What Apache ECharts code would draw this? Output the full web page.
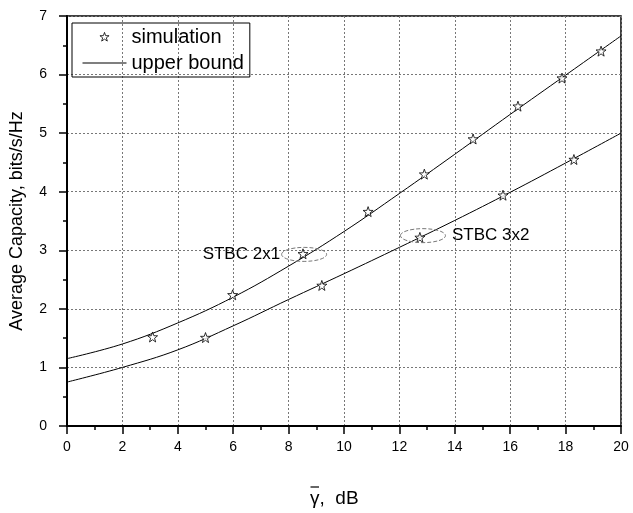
<!DOCTYPE html>
<html>
<head>
<meta charset="utf-8">
<script src="https://cdn.jsdelivr.net/npm/echarts@6/dist/echarts.min.js"></script>
<style>
html,body{margin:0;padding:0;background:#fff;}
#main{width:633px;height:513px;}
</style>
</head>
<body>
<div id="main"></div>
<script>
// simulated points, STBC 2x1
const sim21X = [3.09, 5.98, 8.52, 10.87, 12.9, 14.66, 16.28, 17.87, 19.28];
const sim21Y = [1.52, 2.24, 2.94, 3.66, 4.30, 4.90, 5.46, 5.94, 6.40];
// simulated points, STBC 3x2
const sim32X = [5.0, 9.2, 12.74, 15.74, 18.3];
const sim32Y = [1.51, 2.40, 3.22, 3.94, 4.55];
// upper bound curves
const boundX = [0, 2, 4, 6, 8, 10, 12, 14, 16, 18, 20];
const bound21 = [1.15, 1.40, 1.76, 2.20, 2.73, 3.32, 3.97, 4.64, 5.32, 5.99, 6.66];
const bound32 = [0.75, 1.0, 1.30, 1.71, 2.16, 2.6, 3.05, 3.51, 3.99, 4.49, 5.0];
const xTicks = [0, 2, 4, 6, 8, 10, 12, 14, 16, 18, 20];
const yTicks = [0, 1, 2, 3, 4, 5, 6, 7];

const font = 'Arial, "Liberation Sans", sans-serif';

// 5-point star outline as svg path commands
function starAt(cx, cy, r){
  let d = '';
  for (let i = 0; i < 10; i++){
    const rr = i % 2 ? r * 0.4 : r;
    const a = -Math.PI / 2 + i * Math.PI / 5;
    d += (i ? ' L' : 'M') + (cx + rr * Math.cos(a)).toFixed(1) + ',' + (cy + rr * Math.sin(a)).toFixed(1);
  }
  return d + ' Z';
}
const starSym = 'path://' + starAt(50, 50, 50);
// legend icons: invisible moves fix the box to 44x10 so nothing gets stretched
const starIcon = 'path://M0,0 M440,100 ' + starAt(220, 52, 48);
const lineIcon = 'path://M0,0 M440,100 M0,45 L440,45 L440,55 L0,55 Z';

const pairs = (xs, ys) => xs.map((x, i) => [x, ys[i]]);

let chart = echarts.init(document.getElementById('main'));

const lineStyle = {color: '#000', width: 1};
const starStyle = {color: '#fff', borderColor: '#000', borderWidth: 1};
const gridLine = {lineStyle: {color: '#777', type: [2, 2], width: 1}};

let option = {
  animation: false,
  grid: {left: 67, right: 12, top: 16, bottom: 87, show: true, borderColor: '#000', borderWidth: 1.5},
  legend: {
    orient: 'vertical', left: 72, top: 23,
    borderColor: '#000', borderWidth: 1,
    padding: [4, 6, 4, 10], itemGap: 6, itemWidth: 44, itemHeight: 10,
    textStyle: {fontFamily: font, fontSize: 20, color: '#000'},
    data: [
      {name: 'simulation', icon: starIcon, itemStyle: {color: '#fff', borderColor: '#000', borderWidth: 1}},
      {name: 'upper bound', icon: lineIcon, itemStyle: {color: '#000', borderWidth: 0}}
    ]
  },
  xAxis: {
    type: 'value', min: xTicks[0], max: xTicks[xTicks.length - 1], interval: 2,
    axisLine: {lineStyle: {color: '#000', width: 2}},
    axisTick: {inside: false, length: 8, lineStyle: {color: '#000', width: 1.5}},
    minorTick: {show: true, splitNumber: 2, length: 4, lineStyle: {color: '#000', width: 1.5}},
    axisLabel: {fontFamily: font, fontSize: 14, color: '#000', margin: 14},
    splitLine: gridLine
  },
  yAxis: {
    type: 'value', min: yTicks[0], max: yTicks[yTicks.length - 1], interval: 1,
    name: 'Average Capacity, bits/s/Hz', nameLocation: 'middle', nameGap: 41,
    nameTextStyle: {fontFamily: font, fontSize: 18, color: '#000'},
    axisLine: {show: true, lineStyle: {color: '#000', width: 2}},
    axisTick: {show: true, inside: false, length: 8, lineStyle: {color: '#000', width: 1.5}},
    minorTick: {show: true, splitNumber: 2, length: 4, lineStyle: {color: '#000', width: 1.5}},
    axisLabel: {fontFamily: font, fontSize: 14, color: '#000', margin: 20},
    splitLine: gridLine
  },
  series: [
    {name: 'upper bound', type: 'line', smooth: 0.4, symbol: 'none', lineStyle: lineStyle,
     itemStyle: {color: '#000'}, data: pairs(boundX, bound21), z: 2},
    {name: 'upper bound', type: 'line', smooth: 0.4, symbol: 'none', lineStyle: lineStyle,
     itemStyle: {color: '#000'}, data: pairs(boundX, bound32), z: 2},
    {name: 'simulation', type: 'scatter', symbol: starSym, symbolSize: 10,
     itemStyle: starStyle, data: pairs(sim21X, sim21Y), z: 3},
    {name: 'simulation', type: 'scatter', symbol: starSym, symbolSize: 10,
     itemStyle: starStyle, data: pairs(sim32X, sim32Y), z: 3}
  ]
};
chart.setOption(option);

// dashed ellipses and labels marking the two schemes
const notes = [
  {text: 'STBC 2x1', at: [8.56, 2.93], side: 'left'},
  {text: 'STBC 3x2', at: [12.85, 3.25], side: 'right'}
];
let graphics = [];
notes.forEach(n => {
  const p = chart.convertToPixel({gridIndex: 0}, n.at);
  graphics.push({
    type: 'ellipse', shape: {cx: p[0], cy: p[1], rx: 22.5, ry: 7},
    style: {fill: 'none', stroke: '#777', lineWidth: 1, lineDash: [4, 2]}, z: 5
  });
  graphics.push({
    type: 'text', z: 6,
    x: n.side === 'left' ? p[0] - 24 : p[0] + 29, y: p[1],
    style: {text: n.text, fontFamily: font, fontSize: 17, fill: '#000',
            align: n.side === 'left' ? 'right' : 'left', verticalAlign: 'middle'}
  });
});

// x axis title: gamma with an overbar
const ctx = document.createElement('canvas').getContext('2d');
ctx.font = '19px ' + font;
const gW = ctx.measureText('γ').width;
const tx = 310, ty = 499;
graphics.push({type: 'text', x: tx, y: ty,
  style: {text: 'γ,  dB', fontFamily: font, fontSize: 19, fill: '#000', align: 'left', verticalAlign: 'middle'}});
graphics.push({type: 'line', shape: {x1: tx + 0.5, y1: 487, x2: tx + gW - 0.5, y2: 487},
  style: {stroke: '#000', lineWidth: 1.2}});

chart.setOption({graphic: graphics});
</script>
</body>
</html>
